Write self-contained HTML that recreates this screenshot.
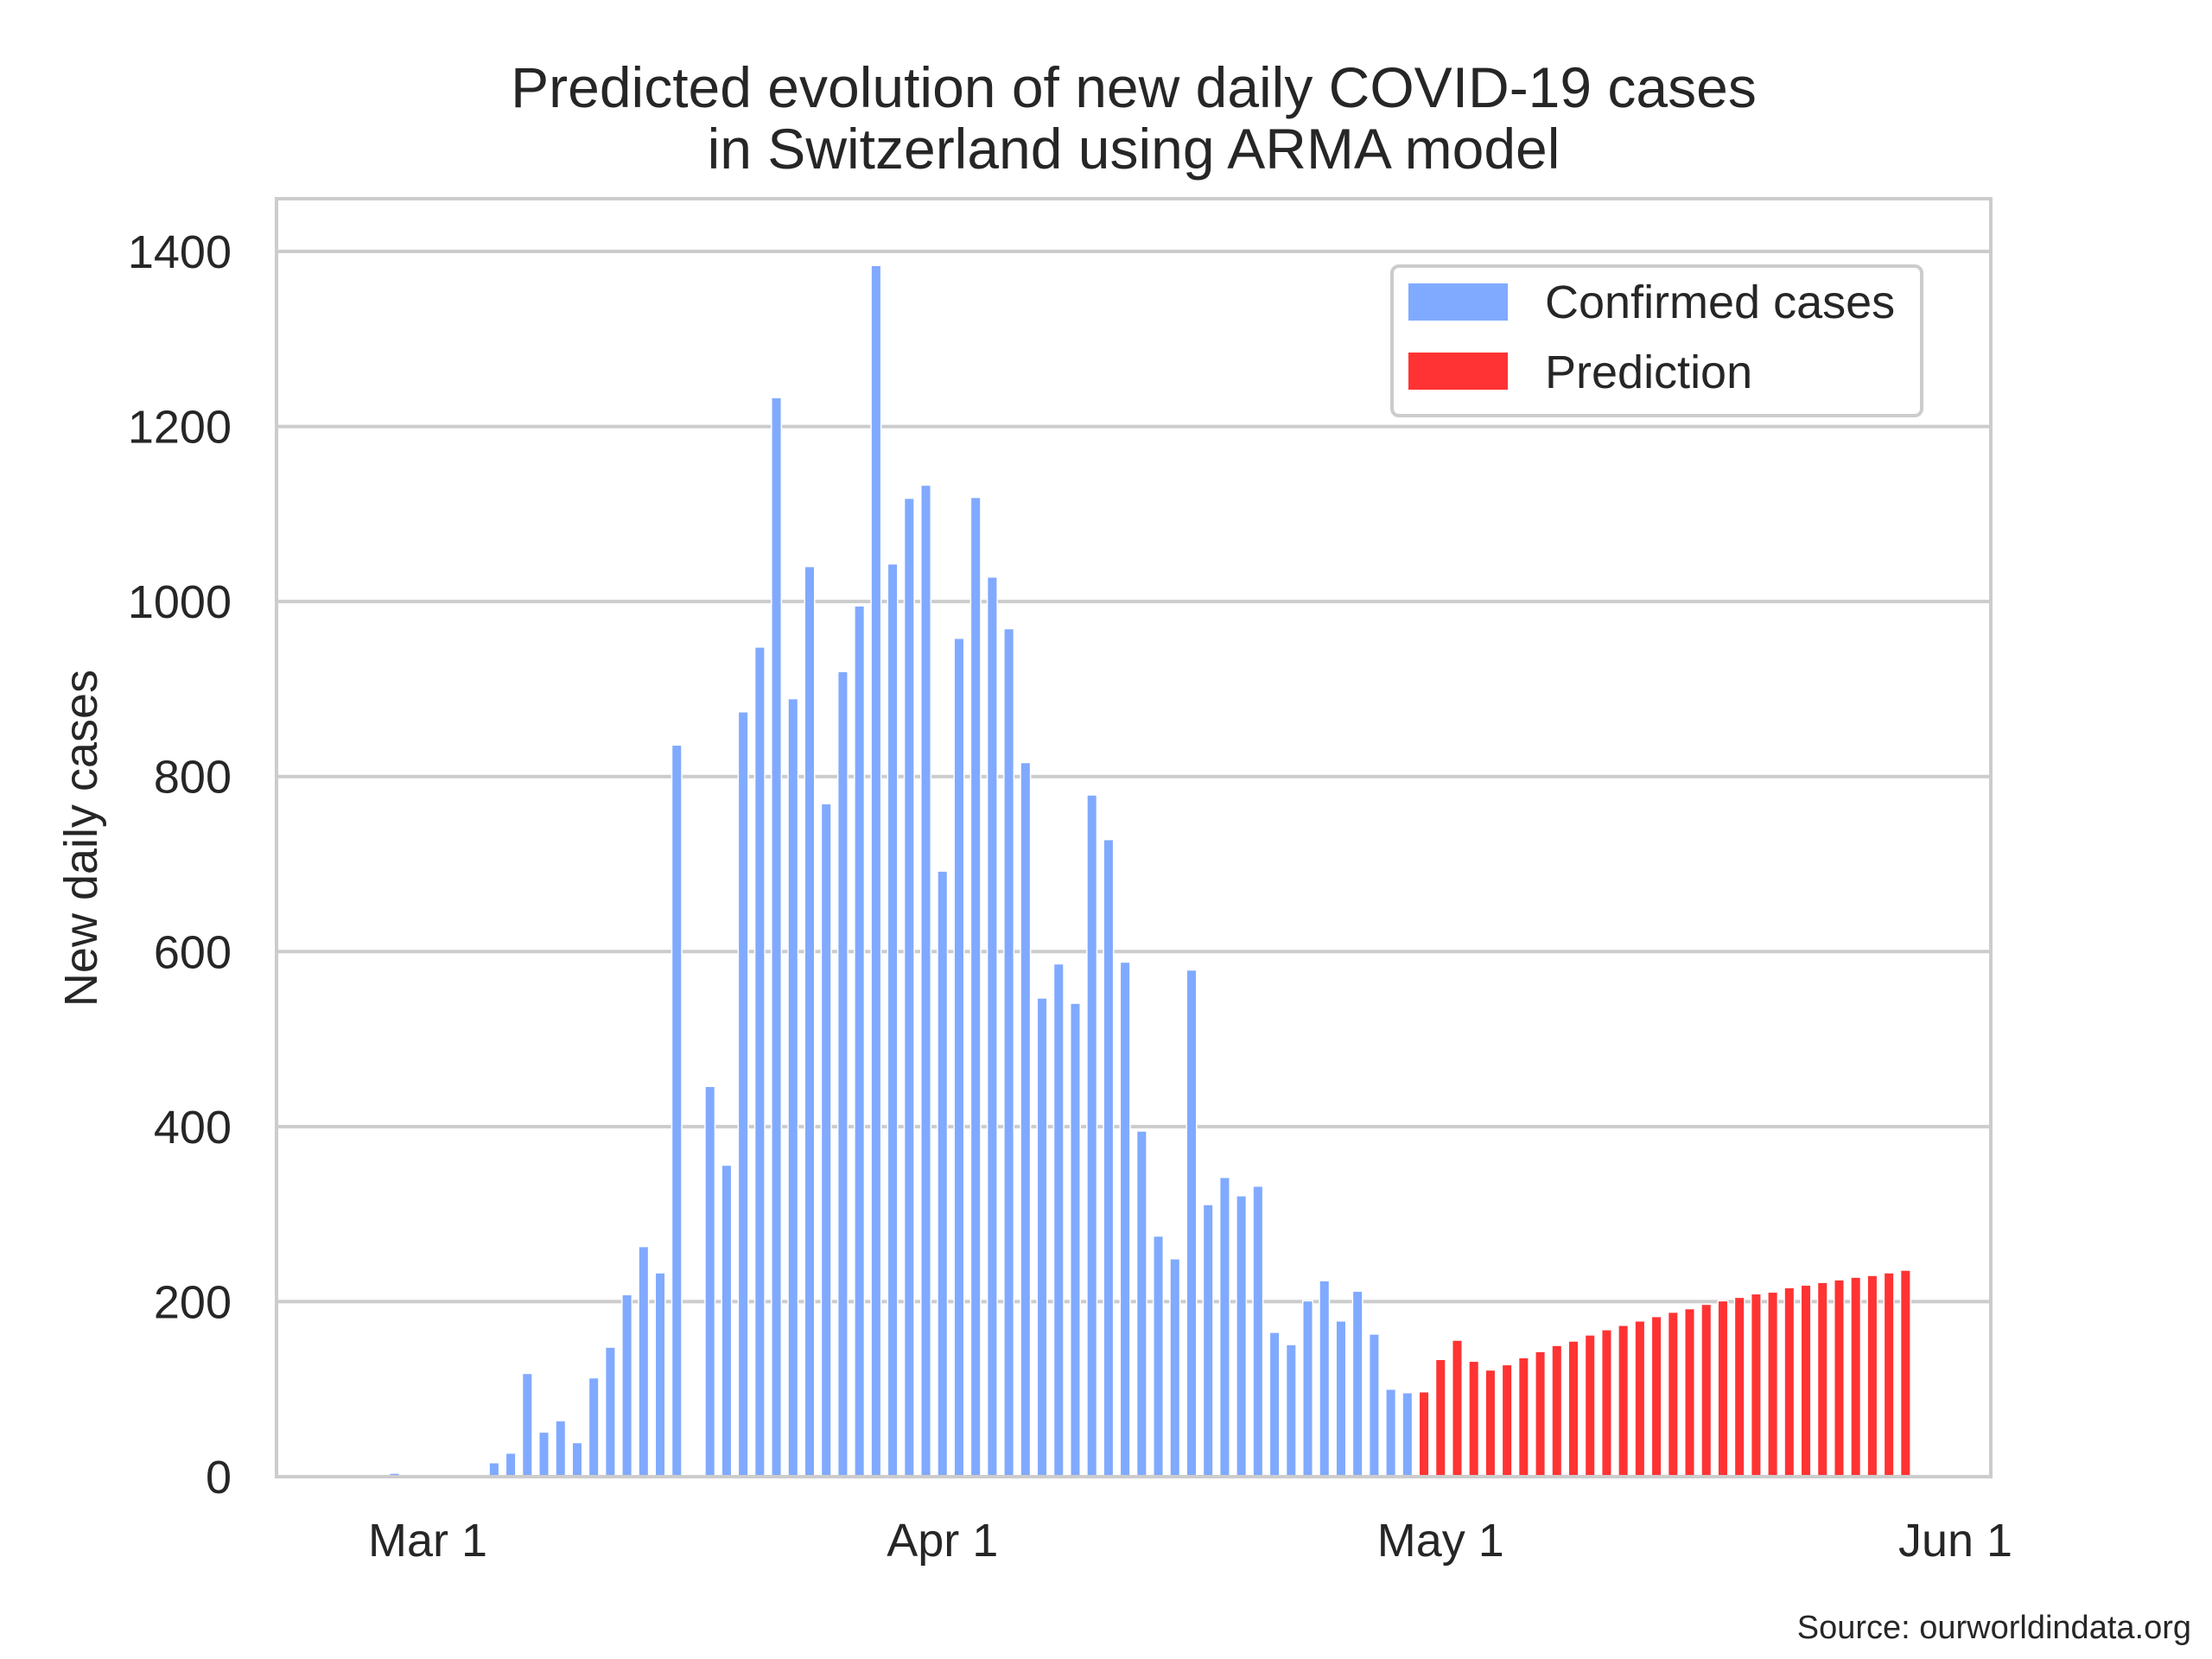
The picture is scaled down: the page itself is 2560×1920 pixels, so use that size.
<!DOCTYPE html>
<html><head><meta charset="utf-8"><style>
html,body{margin:0;padding:0;background:#fff;}
svg{display:block;}
text{font-family:"Liberation Sans",Arial,sans-serif;fill:#262626;}
</style></head><body>
<svg id="chart" width="2560" height="1920" viewBox="0 0 2560 1920" xmlns="http://www.w3.org/2000/svg">
<rect width="2560" height="1920" fill="#fff"/>
<g id="grid"></g>
<g id="bars"></g>
<rect x="320" y="230" width="1984" height="1479" fill="none" stroke="#cccccc" stroke-width="4"/>
<g id="yticks"></g>
<g id="xticks"></g>
<text x="1312" y="124" font-size="66" text-anchor="middle">Predicted evolution of new daily COVID-19 cases</text>
<text x="1312" y="195" font-size="66" text-anchor="middle">in Switzerland using ARMA model</text>
<text x="0" y="0" font-size="54" text-anchor="middle" transform="translate(112,970) rotate(-90)">New daily cases</text>
<g>
<rect x="1611" y="308" width="613" height="173" rx="8" fill="#fff" stroke="#cccccc" stroke-width="4"/>
<rect x="1630" y="328" width="115" height="43" fill="#80aaff"/>
<text x="1788" y="368" font-size="54">Confirmed cases</text>
<rect x="1630" y="408" width="115" height="43" fill="#ff3333"/>
<text x="1788" y="449" font-size="54">Prediction</text>
</g>
<text x="2536" y="1896" font-size="38" text-anchor="end">Source: ourworldindata.org</text>
</svg>
<script>
const confirmedStart = "2020-02-28";
const confirmedValues = [4,0,1,1,1,2,16,27,118,51,64,39,113,148,208,263,233,836,0,446,356,874,948,1233,889,
1040,769,920,995,1384,1043,1118,1133,
692,958,1119,1028,969,816,547,586,541,779,728,588,395,275,249,579,311,342,321,332,165,151,201,224,178,212,163,100,96];
const predictionStart = "2020-04-30";
const predictionValues = [97,134,156,132,122,128,136,143,150,155,162,168,173,178,183,188,192,197,201,205,209,211,216,219,222,225,228,230,233,236];
const yTicks = [0,200,400,600,800,1000,1200,1400];
const xTickDates = ["2020-03-01","2020-04-01","2020-05-01","2020-06-01"];
const xTickLabels = ["Mar 1","Apr 1","May 1","Jun 1"];

const NS = "http://www.w3.org/2000/svg";
const DAY = 86400000;
const origin = Date.UTC(2020,2,1);
function dayOf(s){const p=s.split("-");return (Date.UTC(+p[0],+p[1]-1,+p[2])-origin)/DAY;}
const pxPerDay = (2263-495)/92;
function xScale(d){return 495 + d*pxPerDay;}
function yScale(v){return 1709 - v*(1709-291)/1400;}
function mk(tag, attrs, parent){const e=document.createElementNS(NS,tag);for(const k in attrs)e.setAttribute(k,attrs[k]);parent.appendChild(e);return e;}

const grid=document.getElementById("grid"), yt=document.getElementById("yticks"), xt=document.getElementById("xticks"), bars=document.getElementById("bars");
yTicks.forEach(v=>{
  const y=yScale(v);
  const l=mk("line",{x1:320,x2:2304,y1:y,y2:y,stroke:"#cccccc","stroke-width":4},grid);
  
  
  const t=mk("text",{x:268,y:y+19,"font-size":54,"text-anchor":"end"},yt);
  t.textContent=String(v);
  
  
});
xTickDates.forEach((d,i)=>{
  const t=mk("text",{x:xScale(dayOf(d)),y:1801,"font-size":54,"text-anchor":"middle"},xt);
  t.textContent=xTickLabels[i];
  
  
});
const bw = pxPerDay*0.6;
function drawSeries(start, vals, color, name){
  const d0=dayOf(start);
  vals.forEach((v,i)=>{
    const cx=xScale(d0+i), y=yScale(v);
    const r=mk("rect",{x:cx-bw/2,y:y,width:bw,height:Math.max(0,1709-y),fill:color,stroke:"#ffffff","stroke-width":1.5},bars);
    
    
  });
}
drawSeries(confirmedStart, confirmedValues, "#80aaff", "confirmed-bar");
drawSeries(predictionStart, predictionValues, "#ff3333", "prediction-bar");
</script>
</body></html>
